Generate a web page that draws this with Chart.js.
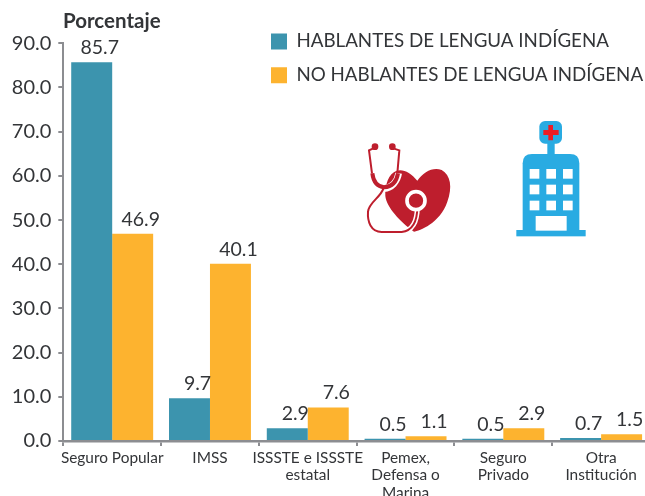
<!DOCTYPE html>
<html><head><meta charset="utf-8">
<script src="https://cdn.jsdelivr.net/npm/chart.js@4"></script>
<style>
html,body{margin:0;padding:0;background:#fff;overflow:hidden;width:645px;height:496px}
#wrap{position:relative;width:645px;height:496px;overflow:hidden}
canvas{position:absolute;left:0;top:0}
svg{position:absolute;left:340px;top:110px}
</style></head><body>
<div id="wrap">
<canvas id="c" width="650" height="496" style="width:650px;height:496px"></canvas>
<svg width="270" height="140" viewBox="0 0 810 420">
  <path d="M232 212C212 188 190 176 170 182C146 190 134 225 136 258C140 292 180 335 222 365C238 362 300 340 322 275C338 232 332 195 305 180C280 170 250 185 232 212Z" fill="#BE1E2D"/>
  <path d="M130 236C122 262 86 278 84 305C82 335 92 365 125 366L185 366C215 362 232 340 232 290" fill="none" stroke="#fff" stroke-width="15"/>
  <path d="M97 190C100 215 112 234 132 236C155 234 172 215 176 190" fill="none" stroke="#fff" stroke-width="20"/>
  <path d="M130 236C122 262 86 278 84 305C82 335 92 365 125 366L185 366C215 362 232 340 232 290" fill="none" stroke="#BE1E2D" stroke-width="6"/>
  <path d="M100 115L87 121L96 190M160 115L178 121L172 190" fill="none" stroke="#BE1E2D" stroke-width="6"/>
  <path d="M97 190C100 215 112 230 132 232C155 230 170 215 174 190" fill="none" stroke="#BE1E2D" stroke-width="12"/>
  <circle cx="105" cy="110" r="10" fill="#BE1E2D"/><circle cx="157" cy="110" r="10" fill="#BE1E2D"/>
  <circle cx="228" cy="272" r="27" fill="#BE1E2D" stroke="#fff" stroke-width="11"/>
  <rect x="598" y="33" width="68" height="68" rx="17" fill="#29ABE2"/>
  <rect x="622" y="98" width="22" height="40" fill="#29ABE2"/>
  <path d="M548 362V160Q548 132 576 132H690Q718 132 718 160V362Z" fill="#29ABE2"/>
  <rect x="529" y="360" width="208" height="19" fill="#29ABE2"/>
  <path d="M625 45h14v15h17v15h-17v16h-14v-16h-15v-15h15z" fill="#ED1C24"/>
  <g fill="#fff">
   <rect x="569" y="177" width="29" height="29"/><rect x="619" y="177" width="29" height="29"/><rect x="669" y="177" width="29" height="29"/>
   <rect x="569" y="224" width="29" height="29"/><rect x="619" y="224" width="29" height="29"/><rect x="669" y="224" width="29" height="29"/>
   <rect x="569" y="272" width="29" height="29"/><rect x="619" y="272" width="29" height="29"/><rect x="669" y="272" width="29" height="29"/>
   <rect x="587" y="318" width="93" height="44"/>
  </g>
</svg>
</div>
<script>
const categories = ["Seguro Popular","IMSS",["ISSSTE e ISSSTE","estatal"],["Pemex,","Defensa o","Marina"],["Seguro","Privado"],["Otra","Institución"]];
const hablantes = [85.7,9.7,2.9,0.5,0.5,0.7];
const noHablantes = [46.9,40.1,7.6,1.1,2.9,1.5];
const seriesNames = ["HABLANTES DE LENGUA INDÍGENA","NO HABLANTES DE LENGUA INDÍGENA"];
const yTitle = "Porcentaje";
const FONT = "Lato, 'Open Sans', sans-serif";
const TEXT = "#333538", AXIS = "#8C8D91";

const valueLabels = {
  id:"valueLabels",
  afterDatasetsDraw(chart){
    const {ctx} = chart;
    ctx.save();
    ctx.font = "19.5px "+FONT; ctx.fillStyle = TEXT; ctx.textAlign="center"; ctx.textBaseline="bottom";
    chart.data.datasets.forEach((ds,i)=>{
      chart.getDatasetMeta(i).data.forEach((el,j)=>{
        ctx.fillText(ds.data[j].toFixed(1), el.x+8, el.y-4.5);
      });
    });
    ctx.restore();
  }
};
const placeLegend = {
  id:"placeLegend",
  afterLayout(chart){
    const l = chart.legend, w = l.right-l.left, h = l.bottom-l.top;
    l.left = 256; l.top = 17; l.right = l.left+w; l.bottom = l.top+h;
  }
};
const titlePlugin = {
  id:"yTitle",
  afterDraw(chart){
    const c = chart.ctx;
    c.save();
    c.font = "bold 20.5px "+FONT; c.fillStyle = TEXT; c.textBaseline = "alphabetic"; c.textAlign = "left";
    c.fillText(yTitle,63,27.5);
    c.restore();
  }
};
Chart.defaults.animation = false;
new Chart(document.getElementById("c"),{
  type:"bar",
  data:{labels:categories,datasets:[
    {label:seriesNames[0],data:hablantes,backgroundColor:"#3C94AE",borderWidth:0,barPercentage:1,categoryPercentage:0.838},
    {label:seriesNames[1],data:noHablantes,backgroundColor:"#FDB32F",borderWidth:0,barPercentage:1,categoryPercentage:0.838}
  ]},
  plugins:[valueLabels,placeLegend,titlePlugin],
  options:{
    responsive:false,
    layout:{padding:{top:43.3,left:0,right:0,bottom:0}},
    plugins:{
      tooltip:{enabled:false},
      title:{display:false},
      legend:{display:true,position:"chartArea",align:"start",
        labels:{boxWidth:16,boxHeight:16,padding:15,color:TEXT,font:{family:FONT,size:18.75}}}
    },
    scales:{
      x:{
        afterFit(s){s.height=55;},
        grid:{display:true,drawOnChartArea:false,drawTicks:true,tickLength:5,color:AXIS,lineWidth:2},
        border:{color:AXIS,width:2.5},
        ticks:{color:TEXT,font:{family:FONT,size:15.4,lineHeight:1.14},padding:3,maxRotation:0,minRotation:0,autoSkip:false}
      },
      y:{
        min:0,max:90,
        afterFit(s){s.width=63.3;},
        grid:{display:true,drawOnChartArea:false,drawTicks:true,tickLength:5,color:AXIS,lineWidth:2},
        border:{color:AXIS,width:2},
        title:{display:false},
        ticks:{stepSize:10,color:TEXT,font:{family:FONT,size:20},padding:7,callback:v=>v.toFixed(1)}
      }
    }
  }
});
</script>
</body></html>
